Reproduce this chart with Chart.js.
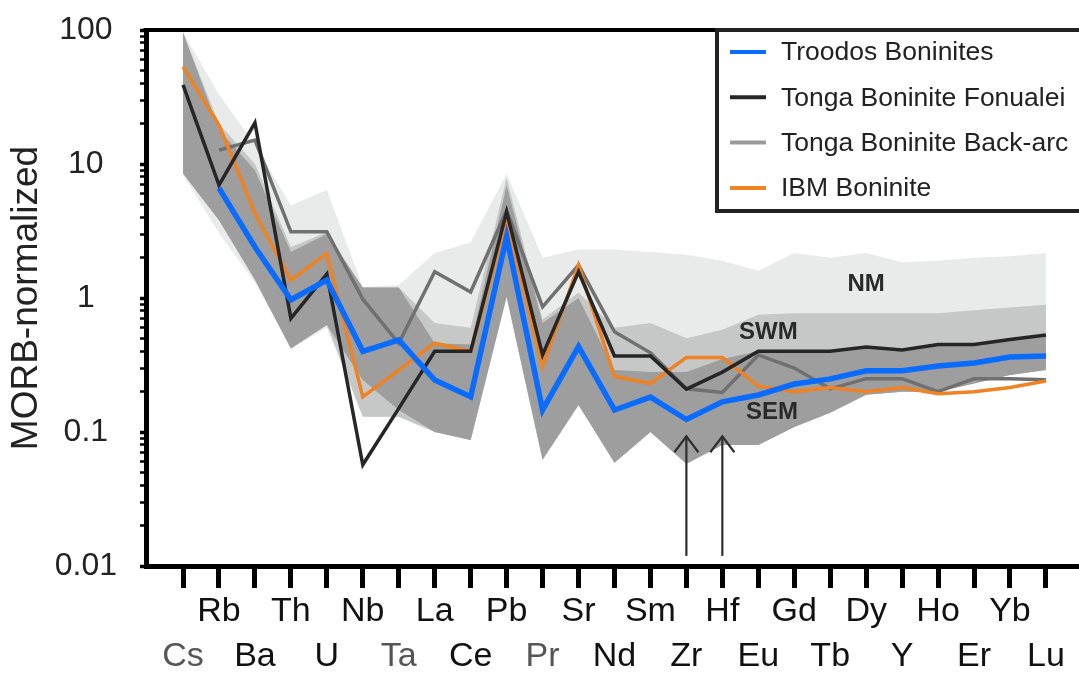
<!DOCTYPE html>
<html>
<head>
<meta charset="utf-8">
<script src="https://cdn.jsdelivr.net/npm/chart.js@4/dist/chart.umd.min.js"></script>
<style>
html,body{margin:0;padding:0;background:#fff;}
canvas{display:block;}
</style>
</head>
<body>
<canvas id="c" width="1079" height="677"></canvas>
<script>
// ---------- data ----------
const elements = ['Cs','Rb','Ba','Th','U','Nb','Ta','La','Ce','Pb','Pr','Sr','Nd','Sm','Zr','Hf','Eu','Gd','Tb','Dy','Y','Ho','Er','Yb','Lu'];
const greyElements = ['Cs','Ta','Pr'];
const yTickValues = [0.01, 0.1, 1, 10, 100];
const yTickLabels = ['0.01', '0.1', '1', '10', '100'];

const troodos  = [null, 6.6, 2.4, 0.97, 1.36, 0.40, 0.486, 0.244, 0.183, 2.87, 0.146, 0.434, 0.146, 0.182, 0.124, 0.168, 0.189, 0.228, 0.249, 0.286, 0.286, 0.311, 0.327, 0.363, 0.369];
const fonualei = [38.9, 6.97, 20.3, 0.705, 1.51, 0.057, 0.15, 0.40, 0.40, 4.4, 0.376, 1.57, 0.369, 0.369, 0.209, 0.28, 0.40, 0.40, 0.40, 0.43, 0.41, 0.45, 0.45, 0.49, 0.53];
const backarc  = [null, 12.7, 15.1, 3.12, 3.12, 0.98, 0.459, 1.57, 1.11, 4.5, 0.86, 1.76, 0.56, 0.39, 0.21, 0.197, 0.376, 0.30, 0.21, 0.25, 0.25, 0.20, 0.25, 0.25, 0.245];
const ibm      = [53.2, 19.5, 4.29, 1.36, 2.15, 0.183, 0.29, 0.46, 0.40, 3.82, 0.307, 1.76, 0.26, 0.23, 0.36, 0.36, 0.22, 0.20, 0.215, 0.20, 0.215, 0.193, 0.20, 0.215, 0.24];

// reference fields (upper / lower envelopes)
const nmUpper  = [96, 33, 14, 4.9, 6.4, 1.21, 1.25, 2.17, 2.6, 8.5, 2.0, 2.3, 2.3, 2.2, 2.1, 1.9, 1.6, 2.17, 2.0, 2.17, 1.85, 1.9, 2.0, 2.05, 2.17];
const nmLower  = [8.3, 3.05, 1.3, 0.42, 0.6, 0.13, 0.13, 0.10, 0.087, 1.02, 0.062, 0.159, 0.059, 0.10, 0.058, 0.080, 0.080, 0.109, 0.139, 0.19, 0.20, 0.20, 0.23, 0.266, 0.29];
const swmUpper = [96, 20, 10, 2.4, 3.1, 1.2, 1.2, 0.65, 0.60, 7.9, 0.69, 1.1, 0.60, 0.65, 0.50, 0.58, 0.75, 0.77, 0.77, 0.77, 0.77, 0.77, 0.81, 0.85, 0.89];
const swmLower = [8.5, 3.8, 1.37, 0.42, 0.63, 0.13, 0.13, 0.10, 0.087, 1.02, 0.062, 0.159, 0.059, 0.10, 0.058, 0.080, 0.080, 0.109, 0.139, 0.19, 0.20, 0.20, 0.23, 0.266, 0.29];
const semUpper = [96, 18, 9, 2.2, 3.0, 1.2, 1.2, 0.46, 0.45, 6.9, 0.65, 1.0, 0.29, 0.28, 0.28, 0.35, 0.40, 0.40, 0.40, 0.42, 0.41, 0.44, 0.45, 0.49, 0.53];
const semLower = [8.5, 3.8, 1.37, 0.42, 0.63, 0.244, 0.146, 0.10, 0.087, 1.02, 0.062, 0.159, 0.059, 0.10, 0.058, 0.080, 0.080, 0.109, 0.139, 0.19, 0.20, 0.20, 0.23, 0.266, 0.29];

const seriesNames = ['Troodos Boninites', 'Tonga Boninite Fonualei', 'Tonga Boninite Back-arc', 'IBM Boninite'];
const fieldNames = ['NM', 'SWM', 'SEM'];

// ---------- styles ----------
const FONT = '"Liberation Sans", Arial, Helvetica, sans-serif';
const colBlue = '#0a6cff', colBlack = '#262626', colGrey = '#707070', colOrange = '#ef8222';
const colNM = '#e9ebea', colSWM = '#c6c7c7', colSEM = '#9d9e9d';

function pts(arr){ return arr.map((v,i)=>({x:i, y:v})); }
function lineDs(label, arr, color, w, order){
  return {label, data: pts(arr), borderColor: color, backgroundColor: color, borderWidth: w,
          pointRadius: 0, pointHoverRadius: 0, fill: false, tension: 0, order,
          borderJoinStyle: 'miter', borderCapStyle: 'butt', spanGaps: true};
}
function bandDs(label, arr, color, fill, order){
  return {label, data: pts(arr), borderWidth: 0, borderColor: 'rgba(0,0,0,0)',
          backgroundColor: color, pointRadius: 0, pointHoverRadius: 0, fill, order, tension: 0};
}

const lineColors = [colBlue, colBlack, colGrey, colOrange];
const lineWidths = [5.5, 3.5, 3.5, 3.5];

const fieldLabelPos = [ {x: 19, y: 1.27}, {x: 16.28, y: 0.55}, {x: 16.38, y: 0.139} ];
const arrowAt = ['Zr', 'Hf'];
const arrowFrom = 0.0119, arrowTo = 0.093;

const overlay = {
  id: 'overlay',
  afterDatasetsDraw(chart){
    const {ctx, chartArea: ca, scales: {x, y}} = chart;
    ctx.save();
    // field labels
    ctx.fillStyle = '#2a2a2a';
    ctx.font = 'bold 24px ' + FONT;
    ctx.textAlign = 'center';
    ctx.textBaseline = 'middle';
    fieldNames.forEach((t, i) => {
      ctx.fillText(t, x.getPixelForValue(fieldLabelPos[i].x), y.getPixelForValue(fieldLabelPos[i].y));
    });
    // arrows
    ctx.strokeStyle = '#2e2e2e';
    ctx.lineWidth = 2.2;
    ctx.lineCap = 'butt';
    arrowAt.forEach(el => {
      const px = x.getPixelForValue(elements.indexOf(el));
      const y1 = y.getPixelForValue(arrowFrom), y2 = y.getPixelForValue(arrowTo);
      ctx.beginPath(); ctx.moveTo(px, y1); ctx.lineTo(px, y2); ctx.stroke();
      ctx.beginPath(); ctx.moveTo(px - 12, y2 + 16); ctx.lineTo(px, y2); ctx.lineTo(px + 12, y2 + 16); ctx.stroke();
    });
    // top frame line
    ctx.strokeStyle = '#000';
    ctx.lineWidth = 4;
    ctx.beginPath(); ctx.moveTo(ca.left - 2.5, ca.top); ctx.lineTo(ca.right, ca.top); ctx.stroke();
    // legend box
    const lx = 717, ly = 30, lw = 380, lh = 181;
    ctx.fillStyle = '#fff';
    ctx.fillRect(lx, ly, lw, lh);
    ctx.strokeStyle = '#222';
    ctx.lineWidth = 4;
    ctx.strokeRect(lx, ly, lw, lh);
    ctx.font = '26.5px ' + FONT;
    ctx.textAlign = 'left';
    ctx.textBaseline = 'middle';
    seriesNames.forEach((n, i) => {
      const ry = 52 + i * 45.3;
      ctx.strokeStyle = i === 2 ? '#9a9a9a' : lineColors[i];
      ctx.lineWidth = 4;
      ctx.beginPath(); ctx.moveTo(730, ry); ctx.lineTo(766, ry); ctx.stroke();
      ctx.fillStyle = '#222';
      ctx.fillText(n, 781, ry + 1);
    });
    ctx.restore();
  }
};

const datasets = [
  lineDs(seriesNames[0], troodos, colBlue, lineWidths[0], 1),
  lineDs(seriesNames[1], fonualei, colBlack, lineWidths[1], 2),
  lineDs(seriesNames[2], backarc, colGrey, lineWidths[2], 4),
  lineDs(seriesNames[3], ibm, colOrange, lineWidths[3], 3),
  bandDs('SEM upper', semUpper, colSEM, '+1', 10),
  bandDs('SEM lower', semLower, colSEM, false, 10),
  bandDs('SWM upper', swmUpper, colSWM, '+1', 20),
  bandDs('SWM lower', swmLower, colSWM, false, 20),
  bandDs('NM upper', nmUpper, colNM, '+1', 30),
  bandDs('NM lower', nmLower, colNM, false, 30)
];

Chart.defaults.font.family = FONT;

new Chart(document.getElementById('c'), {
  type: 'line',
  data: { datasets },
  options: {
    responsive: false,
    animation: false,
    devicePixelRatio: 1,
    layout: { padding: { top: 30, right: 0, left: 0, bottom: 0 } },
    plugins: { legend: { display: false }, tooltip: { enabled: false } },
    scales: {
      x: {
        type: 'linear', min: -1.03, max: 24.92,
        afterBuildTicks: s => { s.ticks = elements.map((e, i) => ({ value: i })); },
        afterFit: s => { s.height = 111; s.paddingLeft = 0; s.paddingRight = 0; },
        ticks: {
          autoSkip: false, maxRotation: 0, minRotation: 0, padding: 2,
          font: { size: 34, lineHeight: 1.3 },
          color: c => greyElements.includes(elements[c.index]) ? '#555' : '#111',
          callback: (v, i) => (i % 2 ? [elements[i], ''] : ['', elements[i]])
        },
        grid: { drawOnChartArea: false, drawTicks: true, tickLength: 22, tickWidth: 5, tickColor: '#000', color: '#000', lineWidth: 1 },
        border: { display: true, width: 5, color: '#000' }
      },
      y: {
        type: 'logarithmic', min: 0.01, max: 100,
        afterBuildTicks: s => {
          const t = [];
          yTickValues.forEach((d, j) => {
            if (j < yTickValues.length - 1) {
              for (let k = 1; k <= 9; k++) t.push({ value: +(k * d).toPrecision(3) });
            } else t.push({ value: d });
          });
          s.ticks = t;
        },
        afterFit: s => { s.width = 146; s.paddingTop = 0; s.paddingBottom = 0; },
        ticks: {
          autoSkip: false, padding: 23, crossAlign: 'center', color: '#222',
          font: { size: 32 },
          callback: v => { const j = yTickValues.indexOf(v); return j >= 0 ? yTickLabels[j] : ''; }
        },
        grid: {
          drawOnChartArea: false, drawTicks: true, tickLength: 6, color: '#000', lineWidth: 1,
          tickWidth: c => (yTickValues.includes(c.tick && c.tick.value) ? 3.5 : 2.5), tickColor: '#000'
        },
        border: { display: true, width: 5, color: '#000' },
        title: { display: true, text: 'MORB-normalized', color: '#222', font: { size: 37 }, padding: { top: 5, bottom: 0 } }
      }
    }
  },
  plugins: [overlay]
});
</script>
</body>
</html>
